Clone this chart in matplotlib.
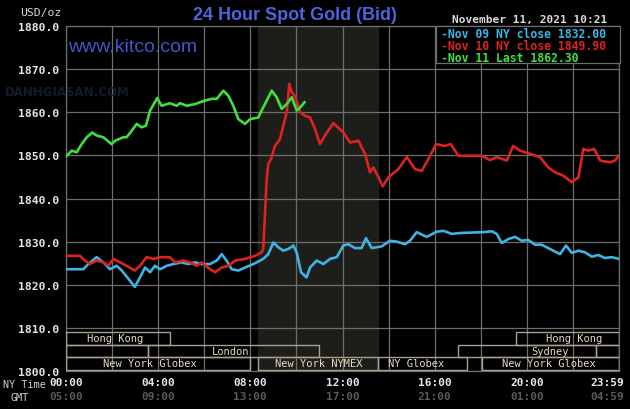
import matplotlib

matplotlib.use("Agg")
import matplotlib.pyplot as plt
from matplotlib.patches import Rectangle
from matplotlib.transforms import blended_transform_factory

# hours after NY midnight, price in USD/oz
nov09_hours = [0, 0.75, 0.97, 1.33, 1.62, 1.91, 2.2, 2.42, 2.78, 2.99, 3.21, 3.43, 3.65, 3.86, 4.08,
               4.37, 4.66, 5.02, 5.31, 5.6, 5.89, 6.25, 6.54, 6.76, 6.97, 7.19, 7.48, 7.77, 8.13, 8.42,
               8.56, 8.78, 9.0, 9.21, 9.43, 9.65, 9.87, 10.01, 10.2, 10.44, 10.59, 10.88, 11.17, 11.46,
               11.75, 12.04, 12.25, 12.54, 12.83, 13.02, 13.27, 13.7, 14.06, 14.35, 14.71, 14.93, 15.22,
               15.65, 16.09, 16.38, 16.74, 17.1, 18.11, 18.48, 18.69, 18.91, 19.2, 19.49, 19.78, 20.06,
               20.35, 20.64, 21.0, 21.44, 21.7, 21.95, 22.24, 22.53, 22.82, 23.1, 23.39, 23.68, 23.98]
nov09_prices = [1823.6, 1823.6, 1824.8, 1826.4, 1825.2, 1823.6, 1824.4, 1823.3, 1820.9, 1819.5,
                1821.7, 1824.0, 1822.9, 1824.4, 1823.6, 1824.4, 1824.8, 1825.2, 1824.8, 1825.2,
                1824.8, 1824.8, 1825.6, 1827.1, 1825.6, 1823.6, 1823.3, 1824.0, 1824.8, 1825.6,
                1826.0, 1827.1, 1829.8, 1828.7, 1827.9, 1828.3, 1829.1, 1827.5, 1822.9, 1821.7,
                1824.0, 1825.6, 1824.8, 1826.0, 1826.4, 1829.1, 1829.4, 1828.5, 1828.5, 1830.8,
                1828.5, 1828.9, 1830.2, 1830.0, 1829.4, 1830.2, 1832.2, 1831.1, 1832.3, 1832.5,
                1831.8, 1832.0, 1832.2, 1832.4, 1831.8, 1829.7, 1830.6, 1831.1, 1830.2, 1830.4,
                1829.3, 1829.3, 1828.3, 1827.1, 1829.1, 1827.4, 1827.9, 1827.5, 1826.5, 1826.9,
                1826.2, 1826.4, 1826.0]

nov10_hours = [0, 0.61, 0.82, 1.04, 1.33, 1.62, 1.84, 2.05, 2.34, 2.63, 2.99, 3.21, 3.5, 3.79, 4.08,
               4.51, 4.73, 5.09, 5.38, 5.67, 5.89, 6.25, 6.47, 6.76, 7.05, 7.34, 7.77, 8.2, 8.49, 8.56,
               8.64, 8.71, 8.78, 8.9, 9.07, 9.29, 9.43, 9.58, 9.69, 9.8, 9.94, 10.16, 10.37, 10.59,
               10.81, 11.02, 11.24, 11.6, 12.04, 12.33, 12.69, 12.98, 13.19, 13.34, 13.56, 13.74,
               13.99, 14.42, 14.79, 15.15, 15.44, 15.73, 16.06, 16.45, 16.7, 17.03, 18.04, 18.4,
               18.69, 19.13, 19.41, 19.7, 20.06, 20.57, 20.93, 21.22, 21.58, 21.95, 22.24, 22.45,
               22.67, 22.92, 23.18, 23.61, 23.83, 23.98]
nov10_prices = [1826.7, 1826.7, 1825.6, 1824.8, 1825.6, 1825.2, 1824.4, 1826.0, 1825.2, 1824.4,
                1823.3, 1824.4, 1826.4, 1826.0, 1826.4, 1826.4, 1825.2, 1825.6, 1825.2, 1824.4,
                1825.2, 1823.6, 1822.9, 1824.0, 1824.4, 1825.6, 1826.0, 1826.7, 1827.5, 1828.3,
                1836.8, 1844.5, 1848.0, 1849.2, 1852.2, 1853.8, 1856.9, 1860.0, 1866.6, 1864.6,
                1863.8, 1860.0, 1859.2, 1858.8, 1856.1, 1852.6, 1854.6, 1857.5, 1855.3, 1853.0,
                1853.4, 1850.3, 1846.1, 1847.2, 1844.9, 1842.8, 1844.9, 1846.8, 1849.6, 1846.8,
                1846.4, 1849.2, 1852.6, 1852.2, 1852.6, 1849.9, 1849.9, 1848.9, 1849.6, 1848.8,
                1852.2, 1851.1, 1850.5, 1849.6, 1847.2, 1846.1, 1845.3, 1843.8, 1844.9, 1851.5,
                1851.1, 1851.5, 1848.8, 1848.4, 1848.8, 1849.9]

nov11_hours = [0.03, 0.25, 0.46, 0.68, 0.9, 1.14, 1.33, 1.62, 1.98, 2.13, 2.49, 2.63, 2.85, 3.07,
               3.28, 3.47, 3.65, 3.96, 4.15, 4.51, 4.8, 4.95, 5.24, 5.6, 6.03, 6.32, 6.54, 6.83,
               7.05, 7.26, 7.48, 7.77, 7.99, 8.35, 8.49, 8.71, 8.93, 9.14, 9.36, 9.58, 9.8, 10.01,
               10.16, 10.35]
nov11_prices = [1849.9, 1851.1, 1850.7, 1852.6, 1854.2, 1855.3, 1854.6, 1854.2, 1852.6, 1853.4,
                1854.2, 1854.2, 1855.7, 1857.3, 1856.5, 1856.9, 1860.4, 1863.3, 1861.5, 1862.1,
                1861.5, 1862.1, 1861.5, 1861.9, 1862.7, 1863.1, 1863.1, 1865.0, 1863.8, 1861.5,
                1858.4, 1857.3, 1858.4, 1858.8, 1860.4, 1862.7, 1865.0, 1863.5, 1860.8, 1861.9,
                1863.5, 1860.4, 1861.1, 1862.3]

legend_labels = ["-Nov 09 NY close 1832.00", "-Nov 10 NY close 1849.90", "-Nov 11 Last 1862.30"]

# trading sessions: name, start hour, end hour, row (0 = top)
session_names = ["Hong Kong", "Hong Kong", "", "London", "Sydney", "",
                 "New York Globex", "New York NYMEX", "NY Globex", "New York Globex"]
session_start = [0, 19.55, 0, 3.55, 17.0, 23.0, 0, 8.33, 13.55, 18.05]
session_end = [4.5, 24, 3.55, 11.0, 23.0, 24, 8.0, 13.55, 17.4, 24]
session_row = [0, 0, 1, 1, 1, 1, 2, 2, 2, 2]
session_label_at = [2.15, 22.05, None, 7.15, 21.0, None, 3.65, 10.95, 15.2, 20.95]

ny_ticks = [0, 4, 8, 12, 16, 20, 23.983]
ny_labels = ["00:00", "04:00", "08:00", "12:00", "16:00", "20:00", "23:59"]
gmt_labels = ["05:00", "09:00", "13:00", "17:00", "21:00", "01:00", "04:59"]
price_ticks = [1800, 1810, 1820, 1830, 1840, 1850, 1860, 1870, 1880]

BG = "black"
GRID = "#6e6e6e"
BOX = "#a8a08a"
BOX_TEXT = "#e6dcc0"
MONO = "DejaVu Sans Mono"

fig = plt.figure(figsize=(6.3, 4.1), dpi=100, facecolor=BG)
ax = fig.add_axes([66 / 630, 1 - 372 / 410, 553 / 630, 345 / 410], facecolor=BG)
ax.set_xlim(0, 24)
ax.set_ylim(1800, 1880)

# NYMEX floor hours shading
ax.axvspan(8.33, 13.55, color="#1d1e19", zorder=0)

ax.set_xticks(range(0, 25, 2))
ax.set_yticks(price_ticks)
ax.grid(True, color=GRID, linewidth=0.9, zorder=1)
ax.tick_params(length=0, colors="#e8e8e8")
ax.set_xticklabels([])
ax.set_yticklabels([f"{v:.1f}" for v in price_ticks], family=MONO, fontsize=8.2,
                   fontweight="bold", color="#e4e4e4")
ax.tick_params(axis="y", pad=5)
for s in ax.spines.values():
    s.set_color(GRID)
    s.set_linewidth(0.9)

# session boxes along the bottom
row_top = [1809.0, 1806.1, 1803.2]
row_h = 2.9
for name, x0, x1, row, lx in zip(session_names, session_start, session_end,
                                 session_row, session_label_at):
    y0 = row_top[row] - row_h
    ax.add_patch(Rectangle((x0, y0), x1 - x0, row_h, fill=False, edgecolor=BOX,
                           linewidth=1.0, zorder=3))
    if name:
        ax.text(lx, y0 + row_h / 2, name, family=MONO, fontsize=7.5, color=BOX_TEXT,
                ha="center", va="center", zorder=4)

ax.plot(nov09_hours, nov09_prices, color="#3fb4e4", linewidth=1.9, zorder=5)
ax.plot(nov10_hours, nov10_prices, color="#dd2222", linewidth=1.9, zorder=6)
ax.plot(nov11_hours, nov11_prices, color="#3ee03e", linewidth=1.9, zorder=7)

# time labels under the axis (last pair sits flush right, past the axis edge)
tr = blended_transform_factory(ax.transData, ax.transAxes)
for i, (h, ny, gmt) in enumerate(zip(ny_ticks, ny_labels, gmt_labels)):
    last = i == len(ny_ticks) - 1
    x = h + 0.26 if last else h
    ha = "right" if last else "center"
    ax.text(x, -0.033, ny, transform=tr, ha=ha, va="center", family=MONO,
            fontsize=8, fontweight="bold", color="#e8e8e8")
    ax.text(x, -0.073, gmt, transform=tr, ha=ha, va="center", family=MONO,
            fontsize=8, fontweight="bold", color="#5a5a5a")
fig.text(46 / 630, 1 - 385 / 410, "NY Time", family=MONO, fontsize=7.3, color="#d0d0d0",
         ha="right", va="center")
fig.text(29 / 630, 1 - 398 / 410, "GMT", family=MONO, fontsize=7.3, color="#d0d0d0",
         ha="right", va="center")

# headers
fig.text(295 / 630, 1 - 16 / 410, "24 Hour Spot Gold (Bid)", family="Liberation Sans",
         fontsize=13, fontweight="bold", color="#4f63dc", ha="center", va="center")
fig.text(20 / 630, 1 - 13 / 410, "USD/oz", family=MONO, fontsize=8.2, color="#d8d8d8",
         ha="left", va="center")
fig.text(607 / 630, 1 - 20 / 410, "November 11, 2021 10:21", family=MONO, fontsize=8,
         fontweight="bold", color="#dcdcdc", ha="right", va="center")

# watermarks
fig.text(5 / 630, 1 - 92 / 410, "DANHGIASAN.COM", family="DejaVu Sans", fontsize=8.5,
         fontweight="bold", color="#111c2c", ha="left", va="center", zorder=0)
fig.text(68 / 630, 1 - 48 / 410, "www.kitco.com", family="Liberation Sans", fontsize=14,
         color="#4456cc", ha="left", va="center")

# legend box
fig.add_artist(Rectangle((436 / 630, 1 - 64 / 410), 184 / 630, 37 / 410,
                         transform=fig.transFigure, facecolor=BG, edgecolor=GRID,
                         linewidth=0.9, zorder=8))
legend_colors = ["#3fb4e4", "#dd2222", "#3ee03e"]
for i, (lab, c) in enumerate(zip(legend_labels, legend_colors)):
    fig.text(441 / 630, 1 - (34 + 12.3 * i) / 410, lab, family=MONO, fontsize=8.3,
             fontweight="bold", color=c, ha="left", va="center", zorder=9)

fig.savefig("out.png", dpi=100, facecolor=BG)
